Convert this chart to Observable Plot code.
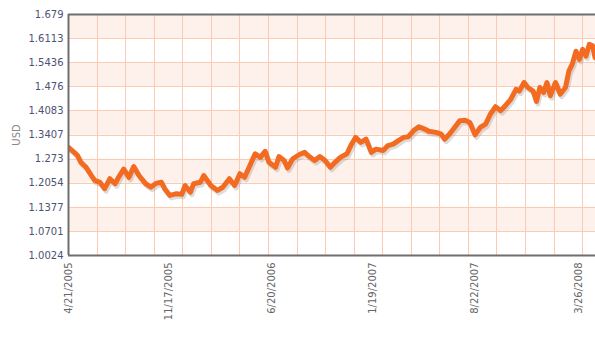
<!DOCTYPE html>
<html>
<head>
<meta charset="utf-8">
<script src="https://cdn.jsdelivr.net/npm/d3@7"></script>
<script src="https://cdn.jsdelivr.net/npm/@observablehq/plot@0.6"></script>
<style>
  html, body { margin: 0; padding: 0; background: #fff; overflow: hidden; }
  #chart { width: 595px; height: 360px; }
</style>
</head>
<body>
<div id="chart"></div>
<script>
// ---- data ----
const yTicks = [1.0024, 1.0701, 1.1377, 1.2054, 1.273, 1.3407, 1.4083, 1.476, 1.5436, 1.6113, 1.679];
const yTickLabels = ["1.0024", "1.0701", "1.1377", "1.2054", "1.273", "1.3407", "1.4083", "1.476", "1.5436", "1.6113", "1.679"];
const xTickDates = ["2005-04-21", "2005-11-17", "2006-06-20", "2007-01-19", "2007-08-22", "2008-03-26"];
const xTickLabels = ["4/21/2005", "11/17/2005", "6/20/2006", "1/19/2007", "8/22/2007", "3/26/2008"];
const xDomainDates = ["2005-04-20", "2008-05-01"];
const gridStepDays = 60;
const yLabel = "USD";

const dates = [
  "2005-04-20","2005-05-02","2005-05-09","2005-05-16","2005-05-27","2005-06-07","2005-06-14","2005-06-25",
  "2005-07-05","2005-07-16","2005-07-27","2005-08-03","2005-08-14","2005-08-25","2005-09-04","2005-09-15",
  "2005-09-29","2005-10-10","2005-10-21","2005-11-01","2005-11-08","2005-11-19","2005-12-03","2005-12-14",
  "2005-12-21","2006-01-01","2006-01-08","2006-01-22","2006-01-29","2006-02-13","2006-02-27","2006-03-10",
  "2006-03-24","2006-04-04","2006-04-15","2006-04-25","2006-05-06","2006-05-17","2006-05-28","2006-06-07",
  "2006-06-15","2006-06-29","2006-07-06","2006-07-17","2006-07-24","2006-08-04","2006-08-18","2006-08-29",
  "2006-09-05","2006-09-19","2006-09-30","2006-10-11","2006-10-22","2006-11-01","2006-11-12","2006-11-26",
  "2006-12-04","2006-12-14","2006-12-25","2007-01-05","2007-01-16","2007-01-26","2007-02-10","2007-02-20",
  "2007-03-03","2007-03-14","2007-03-25","2007-04-04","2007-04-15","2007-04-26","2007-05-07","2007-05-17",
  "2007-06-01","2007-06-12","2007-06-19","2007-06-29","2007-07-10","2007-07-21","2007-08-01","2007-08-11",
  "2007-08-22","2007-09-02","2007-09-13","2007-09-23","2007-10-04","2007-10-15","2007-10-26","2007-11-05",
  "2007-11-16","2007-11-23","2007-12-03","2007-12-11","2007-12-22","2007-12-29","2008-01-05","2008-01-13",
  "2008-01-20","2008-01-27","2008-02-07","2008-02-17","2008-02-28","2008-03-06","2008-03-13","2008-03-21",
  "2008-03-28","2008-04-04","2008-04-11","2008-04-18","2008-04-25","2008-04-30"
];
const values = [
  1.306,1.292,1.283,1.264,1.250,1.227,1.213,1.208,
  1.190,1.218,1.204,1.222,1.245,1.222,1.252,1.227,
  1.204,1.194,1.205,1.208,1.190,1.171,1.176,1.174,
  1.199,1.180,1.204,1.208,1.227,1.199,1.185,1.194,
  1.218,1.199,1.232,1.222,1.255,1.288,1.278,1.295,
  1.264,1.250,1.280,1.269,1.248,1.274,1.286,1.292,
  1.283,1.269,1.280,1.269,1.250,1.264,1.278,1.288,
  1.311,1.334,1.320,1.329,1.292,1.301,1.297,1.311,
  1.315,1.325,1.334,1.336,1.353,1.364,1.358,1.351,
  1.348,1.343,1.329,1.343,1.362,1.381,1.382,1.376,
  1.341,1.362,1.371,1.399,1.420,1.409,1.425,1.441,
  1.469,1.464,1.488,1.474,1.464,1.435,1.474,1.460,
  1.488,1.451,1.488,1.455,1.474,1.520,1.539,1.576,
  1.553,1.581,1.562,1.595,1.591,1.558
];

// ---- build tables ----
const parse = d3.utcParse("%Y-%m-%d");
const series = dates.map((d, i) => ({date: parse(d), value: values[i]}));
const xDomain = xDomainDates.map(parse);
const xTicks = xTickDates.map(parse);
const xLabelOf = new Map(xTicks.map((d, i) => [+d, xTickLabels[i]]));
const yLabelOf = new Map(yTicks.map((v, i) => [v, yTickLabels[i]]));
const nGrid = Math.floor((xDomain[1] - xDomain[0]) / 864e5 / gridStepDays);
const gridDates = d3.range(1, nGrid + 1).map(k => d3.utcDay.offset(xDomain[0], k * gridStepDays));
const bands = d3.range(1, yTicks.length - 1, 2).map(i => ({lo: yTicks[i], hi: yTicks[i + 1]}));

const frameColor = "#6e6e6e";
const gridColor = "#fccbb3";
const bandColor = "#fef1eb";

const chart = Plot.plot({
  width: 595,
  height: 360,
  marginLeft: 68,
  marginRight: 0,
  marginTop: 14,
  marginBottom: 105,
  style: {fontFamily: "'DejaVu Sans', Verdana, sans-serif", fontSize: "10px", background: "#fff", overflow: "hidden"},
  x: {type: "utc", domain: xDomain},
  y: {domain: [yTicks[0], yTicks[yTicks.length - 1]]},
  marks: [
    Plot.rect(bands, {x1: () => xDomain[0], x2: () => xDomain[1], y1: "lo", y2: "hi", fill: bandColor}),
    Plot.gridX(gridDates, {stroke: gridColor, strokeOpacity: 1, strokeWidth: 1, shapeRendering: "crispEdges"}),
    Plot.gridY(yTicks, {stroke: gridColor, strokeOpacity: 1, strokeWidth: 1, shapeRendering: "crispEdges"}),
    Plot.line(series, {x: "date", y: "value", stroke: "#8a8a8a", strokeOpacity: 0.3, strokeWidth: 5, dx: 1.5, dy: 2.5, strokeLinejoin: "round", clip: true}),
    Plot.line(series, {x: "date", y: "value", stroke: "#f36b21", strokeWidth: 5, strokeLinejoin: "round", strokeLinecap: "round", clip: true}),
    Plot.ruleY([yTicks[yTicks.length - 1]], {stroke: frameColor, strokeWidth: 2}),
    Plot.ruleY([yTicks[0]], {stroke: frameColor, strokeWidth: 2}),
    Plot.ruleX([xDomain[0]], {stroke: frameColor, strokeWidth: 2}),
    Plot.axisY(yTicks, {
      tickSize: 0, tickPadding: 5, fill: "#4e5273",
      tickFormat: v => yLabelOf.get(v),
      label: yLabel, labelAnchor: "center", labelOffset: 56
    }),
    Plot.axisX(xTicks, {
      tickSize: 0, tickPadding: 7, tickRotate: -90, fill: "#666",
      tickFormat: d => xLabelOf.get(+d), label: null
    })
  ]
});
document.getElementById("chart").appendChild(chart);
// plain grey axis label without arrow
chart.querySelectorAll("text").forEach(t => {
  if (t.textContent.trim().startsWith(yLabel) && !t.querySelector("tspan + tspan")) {
    t.textContent = yLabel;
    t.setAttribute("fill", "#888");
  }
});
</script>
</body>
</html>
